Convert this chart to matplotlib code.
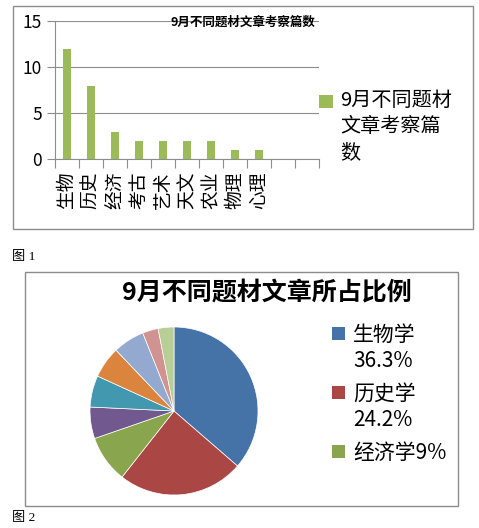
import matplotlib
matplotlib.use("Agg")
import matplotlib.pyplot as plt
from matplotlib.patches import Rectangle
import numpy as np

plt.rcParams['font.family'] = ['Noto Sans CJK SC', 'DejaVu Sans']

# ---------------- data ----------------
bar_categories = ['生物', '历史', '经济', '考古', '艺术', '天文', '农业', '物理', '心理', '', '']
bar_values = [12, 8, 3, 2, 2, 2, 2, 1, 1, 0, 0]
bar_title = '9月不同题材文章考察篇数'
bar_legend = ['9月不同题材', '文章考察篇', '数']
y_ticks = [0, 5, 10, 15]

pie_categories = ['生物学', '历史学', '经济学', '考古学', '艺术', '天文学', '农业', '物理学', '心理学']
pie_values = [12, 8, 3, 2, 2, 2, 2, 1, 1]
pie_title = '9月不同题材文章所占比例'
pie_legend_labels = [['生物学', '36.3%'], ['历史学', '24.2%'], ['经济学9%']]
pie_colors = ['#4572A7', '#AA4643', '#89A54E', '#71588F', '#4198AF',
              '#DB843D', '#93A9CF', '#D19392', '#B9CD96']
bar_color = '#9BBB59'

captions = ['图 1', '图 2']

# ---------------- layout helpers ----------------
W, H = 479, 528
fig = plt.figure(figsize=(W / 100, H / 100), dpi=100)
fig.patch.set_facecolor('white')

def fx(x):
    return x / W

def fy(y):
    return 1 - y / H

def box(x0, y0, x1, y1, **kw):
    fig.patches.append(Rectangle((fx(x0), fy(y1)), fx(x1) - fx(x0), fy(y0) - fy(y1),
                                 transform=fig.transFigure, figure=fig, **kw))

grey = '#8C8C8C'

# ---------------- top box & bar chart ----------------
box(12.5, 6, 473, 229, facecolor='none', edgecolor=grey, linewidth=1.0)

ax = fig.add_axes([fx(55), fy(159.3), fx(319) - fx(55), fy(21.3) - fy(159.3)])
x = np.arange(len(bar_categories))
ax.bar(x, bar_values, width=0.37, color=bar_color, zorder=3)
ax.set_xlim(-0.5, len(bar_categories) - 0.5)
ax.set_ylim(0, 15)
ax.set_yticks(y_ticks)
ax.set_yticklabels([str(v) for v in y_ticks], fontsize=12.5)
ax.set_xticks(x)
ax.set_xticklabels(bar_categories, rotation=90, fontsize=13.5, va='top', ha='center')
ax.set_xticks(np.arange(len(bar_categories) + 1) - 0.5, minor=True)
ax.tick_params(axis='x', which='major', length=0, pad=9)
ax.tick_params(axis='x', which='minor', length=6.5, color=grey, width=0.8, direction='out')
ax.tick_params(axis='y', which='major', length=5.8, color=grey, width=0.8, direction='out', pad=3.5)
for s in ['top', 'right']:
    ax.spines[s].set_visible(False)
for s in ['left', 'bottom']:
    ax.spines[s].set_color(grey)
    ax.spines[s].set_linewidth(0.8)
ax.yaxis.grid(True, color=grey, linewidth=0.8, zorder=0)
ax.set_axisbelow(True)

fig.text(fx(243), fy(22.5), bar_title, fontsize=9, fontweight='bold',
         ha='center', va='center', zorder=5)

# legend (top)
box(319, 95, 333, 108, facecolor=bar_color, edgecolor='none')
for i, line in enumerate(bar_legend):
    fig.text(fx(340), fy(100 + i * 26.5), line, fontsize=14.5, ha='left', va='center')

fig.text(fx(12), fy(257), captions[0], fontsize=9.5, ha='left', va='center',
         family=['Liberation Serif', 'Noto Sans CJK SC'])

# ---------------- bottom box & pie chart ----------------
box(24.5, 272, 458, 506, facecolor='none', edgecolor=grey, linewidth=1.0)

cx, cy, r = 174, 411, 84
pax = fig.add_axes([fx(cx - r), fy(cy + r), fx(2 * r), (2 * r) / H])
pax.pie(pie_values, colors=pie_colors, startangle=90, counterclock=False,
        radius=1.0, wedgeprops=dict(edgecolor='white', linewidth=0.5))
pax.set_xlim(-1.0, 1.0)
pax.set_ylim(-1.0, 1.0)
pax.set_aspect('auto')
pax.axis('off')

fig.text(fx(267), fy(293), pie_title, fontsize=18, fontweight='bold',
         ha='center', va='center')

# legend (bottom)
square_tops = [327, 386, 445]
for i, lines in enumerate(pie_legend_labels):
    top = square_tops[i]
    box(332, top, 345, top + 13, facecolor=pie_colors[i], edgecolor='none')
    for j, line in enumerate(lines):
        fig.text(fx(353), fy(top + 8 + j * 26), line, fontsize=15, ha='left', va='center')

fig.text(fx(12), fy(518), captions[1], fontsize=9.5, ha='left', va='center',
         family=['Liberation Serif', 'Noto Sans CJK SC'])

fig.savefig('out.png', dpi=100)
